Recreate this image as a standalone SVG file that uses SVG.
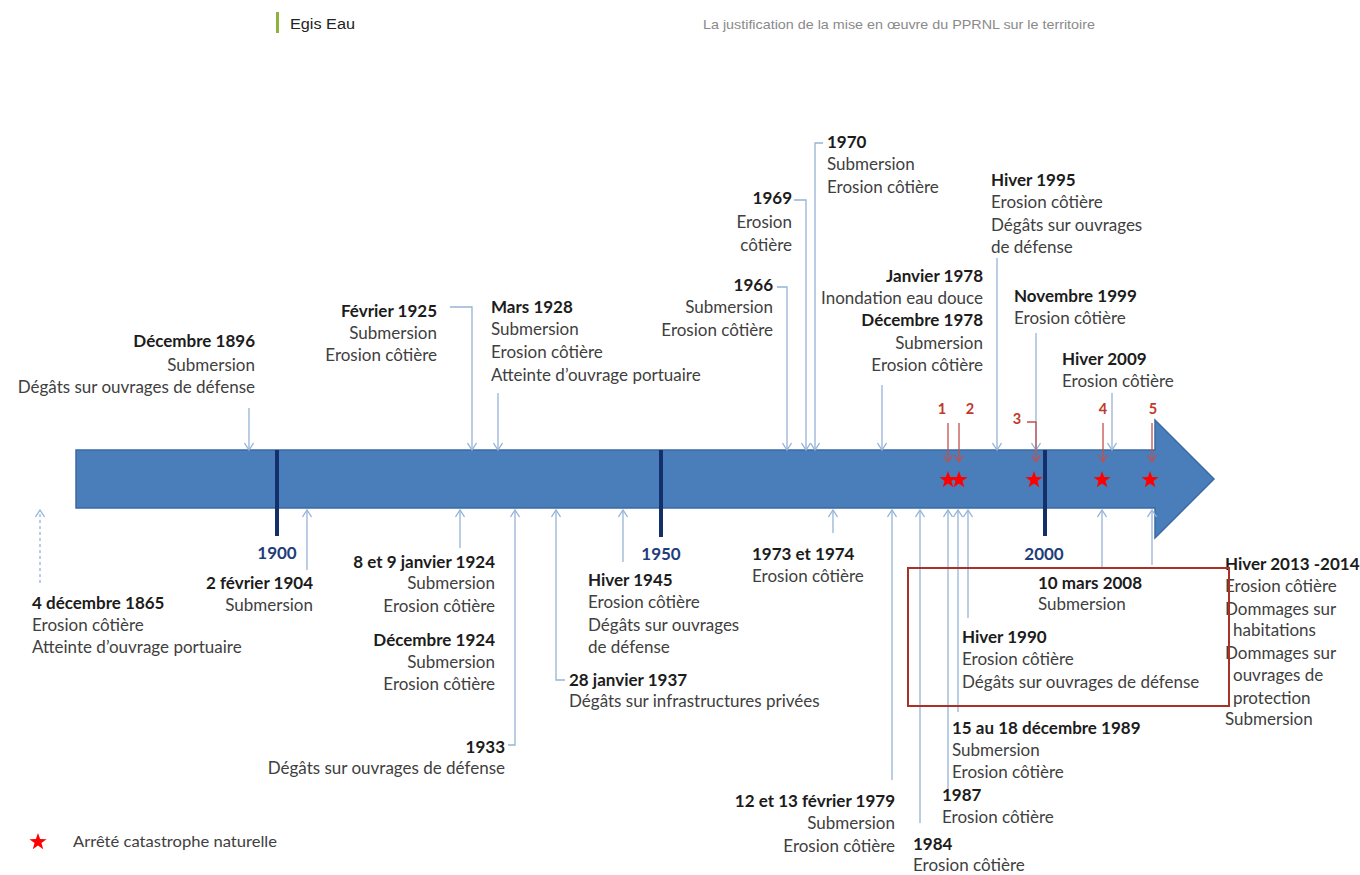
<svg xmlns="http://www.w3.org/2000/svg" width="1360" height="875" viewBox="0 0 1360 875">
<style>
text{font-family:Lato,"Liberation Sans",sans-serif;font-size:17px;fill:#404040}
.d{font-weight:bold;fill:#1c1c1c}
.e{text-anchor:end}
.m{text-anchor:middle}
.yr{font-weight:bold;fill:#1f3d7a;font-size:17px}
.rn{font-weight:bold;fill:#c0392b;font-size:14.5px}
.hd{font-family:"Liberation Sans",sans-serif;font-size:13px}
.c{fill:none;stroke:#95b3d7;stroke-width:1.3;marker-end:url(#ab)}
.r{fill:none;stroke:#c0504d;stroke-width:1.3;marker-end:url(#ar)}
</style>
<defs>
<marker id="ab" viewBox="0 0 10 10" refX="9" refY="5" markerWidth="10" markerHeight="10" markerUnits="userSpaceOnUse" orient="auto"><path d="M2,0.5 L9,5 L2,9.5" fill="none" stroke="#95b3d7" stroke-width="1.3"/></marker>
<marker id="ar" viewBox="0 0 10 10" refX="9" refY="5" markerWidth="10" markerHeight="10" markerUnits="userSpaceOnUse" orient="auto"><path d="M2,0.5 L9,5 L2,9.5" fill="none" stroke="#c0504d" stroke-width="1.3"/></marker>
<path id="star" d="M0,-9 L2.12,-2.91 L8.56,-2.78 L3.42,1.11 L5.29,7.28 L0,3.6 L-5.29,7.28 L-3.42,1.11 L-8.56,-2.78 L-2.12,-2.91 Z" fill="#ff0000"/>
</defs>
<rect width="1360" height="875" fill="#ffffff"/>

<g id="header">
<rect x="276" y="12" width="3" height="21" fill="#8db33a"/>
<text class="hd" x="290" y="29" style="fill:#222;font-size:14px" textLength="65" lengthAdjust="spacingAndGlyphs">Egis Eau</text>
<text class="hd" x="703" y="29" style="fill:#8a8a8a" textLength="392" lengthAdjust="spacingAndGlyphs">La justification de la mise en œuvre du PPRNL sur le territoire</text>
</g>

<g id="timeline">
<path d="M76,450 L1155,450 L1155,420 L1214,479 L1155,538 L1155,508 L76,508 Z" fill="#4a7ebb" stroke="#3b6aa5" stroke-width="1.5"/>
<rect x="275" y="450" width="4" height="86" fill="#14306a"/>
<rect x="659" y="450" width="4" height="87" fill="#14306a"/>
<rect x="1043" y="450" width="4" height="86" fill="#14306a"/>
<text class="yr m" x="277" y="559">1900</text>
<text class="yr m" x="661" y="560">1950</text>
<text class="yr m" x="1044" y="560">2000</text>
</g>

<g id="connectors">
<path class="c" d="M249,408 V450"/>
<path class="c" d="M450,307 H472 V450"/>
<path class="c" d="M498,393 V450"/>
<path class="c" d="M777,287 H787 V450"/>
<path class="c" d="M794,200 H806 V450"/>
<path class="c" d="M823,143 H815 V450"/>
<path class="c" d="M882,385 V450"/>
<path class="c" d="M997,258 V450"/>
<path class="c" d="M1036,333 V450"/>
<path class="c" d="M1112,393 V450"/>
<path class="c" d="M40,583 V510" stroke-dasharray="3,3"/>
<path class="c" d="M307,570 V510"/>
<path class="c" d="M460,548 V510"/>
<path class="c" d="M508,745 H515 V510"/>
<path class="c" d="M565,680 H556 V510"/>
<path class="c" d="M623,562 V510"/>
<path class="c" d="M833,533 V510"/>
<path class="c" d="M892,780 V510"/>
<path class="c" d="M920,823 V510"/>
<path class="c" d="M948,790 V510"/>
<path class="c" d="M958,712 V510"/>
<path class="c" d="M968,618 V510"/>
<path class="c" d="M1102,567 V510"/>
<path class="c" d="M1152,565 V510"/>
<path class="r" d="M948,423 V462"/>
<path class="r" d="M959,423 V462"/>
<path class="r" d="M1027,422 H1036 V462"/>
<path class="r" d="M1103,423 V462"/>
<path class="r" d="M1152,423 V462"/>
</g>

<g id="stars">
<use href="#star" x="948" y="480"/>
<use href="#star" x="959" y="480"/>
<use href="#star" x="1034" y="480"/>
<use href="#star" x="1102" y="480"/>
<use href="#star" x="1150" y="480"/>
<text class="rn m" x="942" y="414">1</text>
<text class="rn m" x="970" y="414">2</text>
<text class="rn m" x="1017" y="424">3</text>
<text class="rn m" x="1103" y="414">4</text>
<text class="rn m" x="1153" y="414">5</text>
</g>

<g id="ev-1896">
<text class="d e" x="255" y="347">Décembre 1896</text>
<text class="e" x="255" y="371">Submersion</text>
<text class="e" x="255" y="393">Dégâts sur ouvrages de défense</text>
</g>
<g id="ev-1925-02">
<text class="d e" x="437" y="317">Février 1925</text>
<text class="e" x="437" y="339">Submersion</text>
<text class="e" x="437" y="361">Erosion côtière</text>
</g>
<g id="ev-1928">
<text class="d" x="491" y="313">Mars 1928</text>
<text x="491" y="335">Submersion</text>
<text x="491" y="358">Erosion côtière</text>
<text x="491" y="381">Atteinte  d’ouvrage portuaire</text>
</g>
<g id="ev-1966">
<text class="d e" x="773" y="291">1966</text>
<text class="e" x="773" y="313">Submersion</text>
<text class="e" x="773" y="336">Erosion côtière</text>
</g>
<g id="ev-1969">
<text class="d e" x="792" y="204">1969</text>
<text class="e" x="792" y="228">Erosion</text>
<text class="e" x="792" y="251">côtière</text>
</g>
<g id="ev-1970">
<text class="d" x="827" y="148">1970</text>
<text x="827" y="170">Submersion</text>
<text x="827" y="193">Erosion côtière</text>
</g>
<g id="ev-1978">
<text class="d e" x="983" y="282">Janvier 1978</text>
<text class="e" x="983" y="304">Inondation eau douce</text>
<text class="d e" x="983" y="326">Décembre 1978</text>
<text class="e" x="983" y="349">Submersion</text>
<text class="e" x="983" y="371">Erosion côtière</text>
</g>
<g id="ev-1995">
<text class="d" x="991" y="186">Hiver 1995</text>
<text x="991" y="208">Erosion côtière</text>
<text x="991" y="231">Dégâts sur ouvrages</text>
<text x="991" y="253">de défense</text>
</g>
<g id="ev-1999">
<text class="d" x="1014" y="302">Novembre 1999</text>
<text x="1014" y="324">Erosion côtière</text>
</g>
<g id="ev-2009">
<text class="d" x="1062" y="365">Hiver 2009</text>
<text x="1062" y="387">Erosion côtière</text>
</g>

<g id="ev-1865">
<text class="d" x="32" y="609">4 décembre 1865</text>
<text x="32" y="631">Erosion côtière</text>
<text x="32" y="653">Atteinte  d’ouvrage portuaire</text>
</g>
<g id="ev-1904">
<text class="d e" x="313" y="589">2 février 1904</text>
<text class="e" x="313" y="611">Submersion</text>
</g>
<g id="ev-1924-01">
<text class="d e" x="495" y="568">8 et 9 janvier 1924</text>
<text class="e" x="495" y="589">Submersion</text>
<text class="e" x="495" y="612">Erosion côtière</text>
</g>
<g id="ev-1924-12">
<text class="d e" x="495" y="646">Décembre 1924</text>
<text class="e" x="495" y="668">Submersion</text>
<text class="e" x="495" y="690">Erosion côtière</text>
</g>
<g id="ev-1933">
<text class="d e" x="505" y="753">1933</text>
<text class="e" x="505" y="774">Dégâts sur ouvrages de défense</text>
</g>
<g id="ev-1937">
<text class="d" x="569" y="686">28 janvier 1937</text>
<text x="569" y="707">Dégâts sur infrastructures privées</text>
</g>
<g id="ev-1945">
<text class="d" x="588" y="586">Hiver 1945</text>
<text x="588" y="608">Erosion côtière</text>
<text x="588" y="631">Dégâts sur ouvrages</text>
<text x="588" y="653">de défense</text>
</g>
<g id="ev-1973">
<text class="d" x="752" y="560">1973 et 1974</text>
<text x="752" y="582">Erosion côtière</text>
</g>
<g id="ev-1979">
<text class="d e" x="895" y="807">12 et 13 février 1979</text>
<text class="e" x="895" y="829">Submersion</text>
<text class="e" x="895" y="852">Erosion côtière</text>
</g>
<g id="ev-1984">
<text class="d" x="913" y="850">1984</text>
<text x="913" y="871">Erosion côtière</text>
</g>
<g id="ev-1987">
<text class="d" x="942" y="801">1987</text>
<text x="942" y="823">Erosion côtière</text>
</g>
<g id="ev-1989">
<text class="d" x="952" y="734">15 au 18 décembre 1989</text>
<text x="952" y="756">Submersion</text>
<text x="952" y="778">Erosion côtière</text>
</g>
<g id="ev-1990">
<text class="d" x="962" y="643">Hiver 1990</text>
<text x="962" y="665">Erosion côtière</text>
<text x="962" y="688">Dégâts sur ouvrages de défense</text>
</g>
<g id="ev-2008">
<text class="d" x="1038" y="589">10 mars 2008</text>
<text x="1038" y="610">Submersion</text>
</g>
<g id="ev-2013">
<text class="d" x="1225" y="570">Hiver 2013 -2014</text>
<text x="1225" y="592">Erosion côtière</text>
<text x="1225" y="615">Dommages sur</text>
<text x="1233" y="636">habitations</text>
<text x="1225" y="659">Dommages sur</text>
<text x="1233" y="681">ouvrages de</text>
<text x="1233" y="704">protection</text>
<text x="1225" y="725">Submersion</text>
</g>

<g id="highlight">
<rect x="908" y="568" width="321" height="138" fill="none" stroke="#a83228" stroke-width="2"/>
</g>

<g id="legend">
<use href="#star" x="38" y="842"/>
<text x="73" y="847" style="font-size:15px" textLength="204" lengthAdjust="spacingAndGlyphs">Arrêté catastrophe naturelle</text>
</g>
</svg>
